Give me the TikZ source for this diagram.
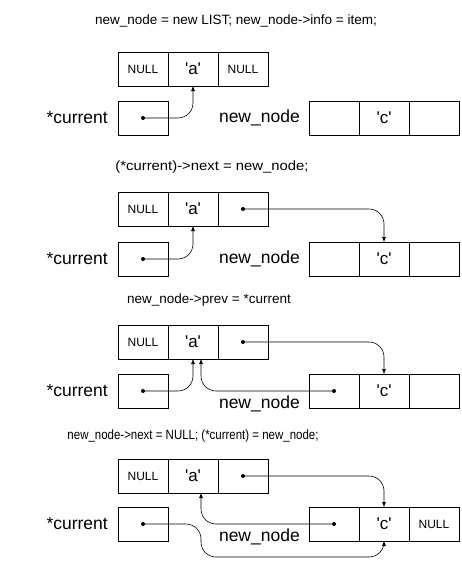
\documentclass[tikz,border=0pt]{standalone}
\usepackage{fontspec}
\setmainfont{Liberation Sans}
\usetikzlibrary{arrows.meta,positioning}
\newcommand{\sq}{\textquotesingle}

\begin{document}
\begin{tikzpicture}[
  x=1pt,y=-1pt,
  cell/.style={draw=black,line width=0.7pt,minimum width=50pt,minimum height=34pt,inner sep=0pt,outer sep=0pt,font=\fontsize{17}{17}\selectfont},
  nullcell/.style={cell,font=\fontsize{12}{12}\selectfont},
  varname/.style={font=\fontsize{17.5}{18}\selectfont,inner sep=0pt},
  stmt/.style={font=\fontsize{13.5}{14}\selectfont,inner sep=0pt},
  dot/.style={circle,fill=black,inner sep=0pt,minimum size=4pt},
  ptr/.style={-{Latex[length=5pt,width=4pt]},line width=0.6pt,rounded corners=15pt}
]
\useasboundingbox (0,0) rectangle (461,568);

% step 1: allocate
\node[stmt] (t1) at (236,21) {new\_node = new LIST; new\_node->info = item;};
\node[nullcell] (p1a1) at (143,69) {NULL};
\node[cell,right=0pt of p1a1] (p1a2) {\sq a\sq};
\node[nullcell,right=0pt of p1a2] (p1a3) {NULL};
\node[cell] (p1c) at (143,118) {};
\node[varname,left=10pt of p1c] (p1cl) {*current};
\node[cell] (p1n1) at (334,118) {};
\node[cell,right=0pt of p1n1] (p1n2) {\sq c\sq};
\node[cell,right=0pt of p1n2] (p1n3) {};
\node[varname,left=9pt of p1n1] (p1nl) {new\_node};
\node[dot] (p1cd) at (p1c.center) {};
\draw[ptr] (p1cd.center) -| (p1a2.south);

% step 2: link next
\node[stmt] (t2) at (212,167) {\scalebox{1.1}[1]{(*current)->next = new\_node;}};
\node[nullcell] (p2a1) at (143,209) {NULL};
\node[cell,right=0pt of p2a1] (p2a2) {\sq a\sq};
\node[cell,right=0pt of p2a2] (p2a3) {};
\node[cell] (p2c) at (143,259) {};
\node[varname,left=10pt of p2c] (p2cl) {*current};
\node[cell] (p2n1) at (334,259) {};
\node[cell,right=0pt of p2n1] (p2n2) {\sq c\sq};
\node[cell,right=0pt of p2n2] (p2n3) {};
\node[varname,left=9pt of p2n1] (p2nl) {new\_node};
\node[dot] (p2cd) at (p2c.center) {};
\node[dot] (p2ad) at (p2a3.center) {};
\draw[ptr] (p2cd.center) -| (p2a2.south);
\draw[ptr] (p2ad.center) -| (p2n2.north);

% step 3: link prev
\node[stmt] (t3) at (209,300) {new\_node->prev = *current};
\node[nullcell] (p3a1) at (143,342) {NULL};
\node[cell,right=0pt of p3a1] (p3a2) {\sq a\sq};
\node[cell,right=0pt of p3a2] (p3a3) {};
\node[cell] (p3c) at (143,391) {};
\node[varname,left=10pt of p3c] (p3cl) {*current};
\node[cell] (p3n1) at (334,391) {};
\node[cell,right=0pt of p3n1] (p3n2) {\sq c\sq};
\node[cell,right=0pt of p3n2] (p3n3) {};
\node[varname,left=9pt of p3n1,yshift=-13pt] (p3nl) {new\_node};
\node[dot] (p3cd) at (p3c.center) {};
\node[dot] (p3ad) at (p3a3.center) {};
\node[dot] (p3nd) at (p3n1.center) {};
\draw[ptr] (p3cd.center) -| (p3a2.south);
\draw[ptr] (p3ad.center) -| (p3n2.north);
\draw[ptr] (p3nd.center) -| ([xshift=8pt]p3a2.south);

% step 4: terminate and move current
\node[stmt] (t4) at (193,436) {\scalebox{0.85}[1]{new\_node->next = NULL; (*current) = new\_node;}};
\node[nullcell] (p4a1) at (143,476) {NULL};
\node[cell,right=0pt of p4a1] (p4a2) {\sq a\sq};
\node[cell,right=0pt of p4a2] (p4a3) {};
\node[cell] (p4c) at (143,524) {};
\node[varname,left=10pt of p4c] (p4cl) {*current};
\node[cell] (p4n1) at (334,524) {};
\node[cell,right=0pt of p4n1] (p4n2) {\sq c\sq};
\node[nullcell,right=0pt of p4n2] (p4n3) {NULL};
\node[varname,left=9pt of p4n1,yshift=-13pt] (p4nl) {new\_node};
\node[dot] (p4cd) at (p4c.center) {};
\node[dot] (p4ad) at (p4a3.center) {};
\node[dot] (p4nd) at (p4n1.center) {};
\coordinate (p4low) at (201,557);
\draw[ptr] (p4ad.center) -| (p4n2.north);
\draw[ptr] (p4nd.center) -| ([xshift=8pt]p4a2.south);
\draw[ptr] (p4cd.center) -| (p4low) -| (p4n2.south);
\end{tikzpicture}
\end{document}
